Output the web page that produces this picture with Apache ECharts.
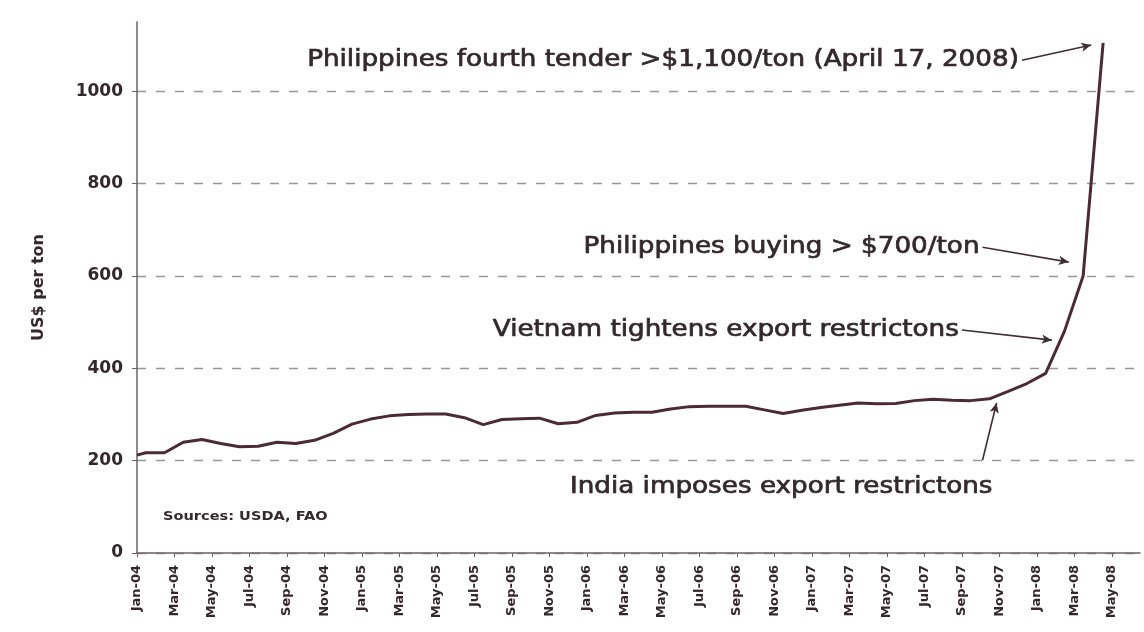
<!DOCTYPE html>
<html>
<head>
<meta charset="utf-8">
<script src="https://cdn.jsdelivr.net/npm/echarts@6/dist/echarts.min.js"></script>
<style>
html,body{margin:0;padding:0;background:#fff;}
#chart{width:1144px;height:632px;}
</style>
</head>
<body>
<div id="chart"></div>
<script>
// ---- data ----
const dates = [
 '2004-01-01','2004-01-15','2004-02-15','2004-03-15','2004-04-15','2004-05-15','2004-06-15',
 '2004-07-15','2004-08-15','2004-09-15','2004-10-15','2004-11-15','2004-12-15',
 '2005-01-15','2005-02-15','2005-03-15','2005-04-15','2005-05-15','2005-06-15',
 '2005-07-15','2005-08-15','2005-09-15','2005-10-15','2005-11-15','2005-12-15',
 '2006-01-15','2006-02-15','2006-03-15','2006-04-15','2006-05-15','2006-06-15',
 '2006-07-15','2006-08-15','2006-09-15','2006-10-15','2006-11-15','2006-12-15',
 '2007-01-15','2007-02-15','2007-03-15','2007-04-15','2007-05-15','2007-06-15',
 '2007-07-15','2007-08-15','2007-09-15','2007-10-15','2007-11-15','2007-12-15',
 '2008-01-15','2008-02-15','2008-03-15','2008-04-17'
];
const prices = [
 212,217,217,240,246,237,230,
 231,240,237,244,259,279,
 290,297,300,301,301,293,
 278,289,291,292,280,283,
 298,303,305,305,312,317,
 318,318,318,310,302,309,
 315,320,325,323,324,330,
 333,331,330,334,350,367,
 389,480,600,1105
];
const xTickLabels = ['Jan-04','Mar-04','May-04','Jul-04','Sep-04','Nov-04',
 'Jan-05','Mar-05','May-05','Jul-05','Sep-05','Nov-05',
 'Jan-06','Mar-06','May-06','Jul-06','Sep-06','Nov-06',
 'Jan-07','Mar-07','May-07','Jul-07','Sep-07','Nov-07',
 'Jan-08','Mar-08','May-08'];
const yTicks = [0,200,400,600,800,1000];
const yAxisName = 'US$ per ton';
const sourceNote = 'Sources: USDA, FAO';
// annotations: text + arrow from/to in data units [month index, US$]
const notes = [
 {text:'Philippines fourth tender >$1,100/ton (April 17, 2008)', from:[47.2,1067], to:[50.9,1100]},
 {text:'Philippines buying > $700/ton', from:[45.1,662], to:[49.7,630]},
 {text:'Vietnam tightens export restrictons', from:[44.0,483], to:[48.8,461]},
 {text:'India imposes export restrictons', from:[45.1,201], to:[45.85,325]}
];

// ---- helpers ----
function monthPos(d){
  const p = d.split('-').map(Number);
  return (p[0]-2004)*12 + (p[1]-1) + (p[2]-1)/30;
}
const points = dates.map((d,i)=>[monthPos(d), prices[i]]);
const xTickVals = xTickLabels.map((_,i)=>i*2);

const INK = '#33292d';
const FONT = 'DejaVu Sans';

const chart = echarts.init(document.getElementById('chart'), null, {renderer:'canvas'});
const option = {
  backgroundColor:'#ffffff',
  animation:false,
  grid:{left:137, right:4, top:22, bottom:79, containLabel:false},
  xAxis:{
    type:'value', min:0, max:53.5,
    axisLine:{show:true, onZero:false, lineStyle:{color:'#6e6064', width:1.5}},
    axisTick:{show:true, customValues:xTickVals, length:4, lineStyle:{color:'#6e6064'}},
    axisLabel:{customValues:xTickVals, rotate:90, margin:12, color:INK, fontFamily:FONT, fontWeight:'bold', fontSize:13,
      formatter:function(v){ const i=Math.round(v/2); return xTickLabels[i]||''; }},
    splitLine:{show:false}
  },
  yAxis:{
    type:'value', min:0, max:1150,
    name:yAxisName, nameLocation:'middle', nameGap:90, nameRotate:90,
    nameTextStyle:{color:INK, fontFamily:FONT, fontWeight:'bold', fontSize:16},
    axisLine:{show:true, lineStyle:{color:'#6e6064', width:1.5}},
    axisTick:{show:true, customValues:yTicks, length:5, lineStyle:{color:'#6e6064'}},
    axisLabel:{customValues:yTicks, margin:14, color:INK, fontFamily:FONT, fontWeight:'bold', fontSize:17,
      formatter:function(v){ return String(v); }},
    splitLine:{show:true, lineStyle:{color:'#9c9598', type:[9,10], width:1.3}}
  },
  series:[
    {
      type:'line', data:points, showSymbol:false, smooth:false,
      lineStyle:{color:'#4b2a34', width:3},
      markLine:{
        silent:true, symbol:['none','arrow'], symbolSize:[7,10],
        lineStyle:{color:'#3e3034', width:1.6, type:'solid'},
        label:{show:false},
        data: notes.map(n=>[{coord:n.from},{coord:n.to}])
      }
    }
  ]
};
chart.setOption(option);

// annotation texts, anchored right at arrow start
const g = [];
notes.forEach(function(n,i){
  const p = chart.convertToPixel({gridIndex:0}, n.from);
  g.push({type:'text', x:p[0]-(i===3?-10:3), y:(i===3? p[1]+27 : p[1]), scaleX:1.14,
    style:{text:n.text, fill:INK, font:'23px "DejaVu Sans"', align:'right', verticalAlign:'middle',
      stroke:INK, lineWidth:0.7}});
});
g.push({type:'text', x:163, y:517, scaleX:1.12,
  style:{text:sourceNote, fill:INK, font:'bold 13px "DejaVu Sans"', verticalAlign:'middle'}});
chart.setOption({graphic:g});
</script>
</body>
</html>
